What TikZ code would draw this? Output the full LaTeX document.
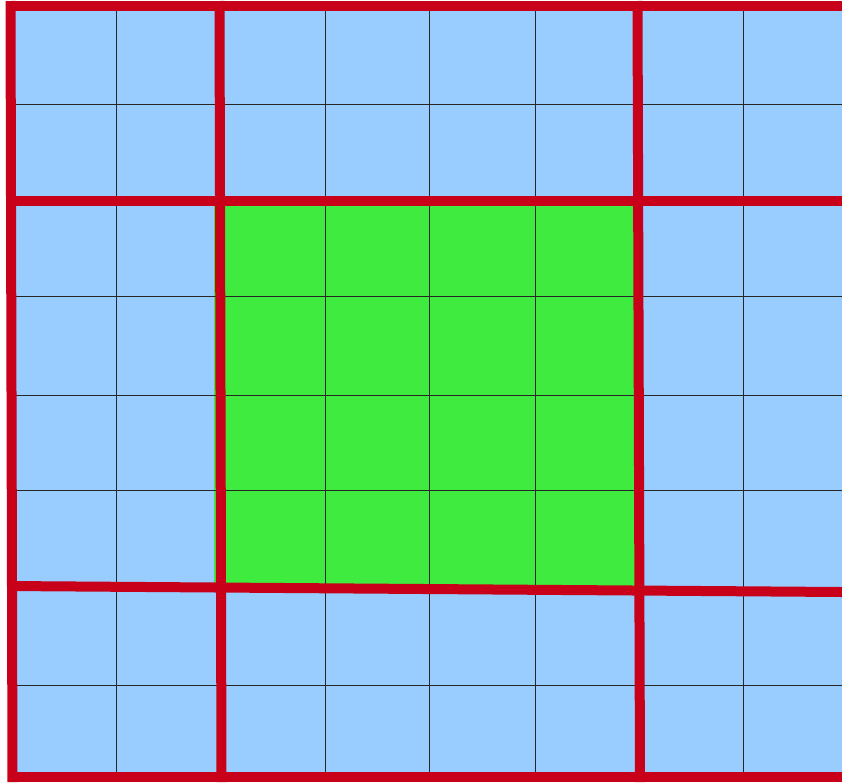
\documentclass[tikz,border=0pt]{standalone}
\definecolor{cellblue}{HTML}{99CCFF}
\definecolor{cellgreen}{HTML}{3EEB3E}
\definecolor{gridred}{HTML}{C8001A}
\tikzset{
  thin grid/.style={draw=black!85, line width=1pt},
  red grid/.style={draw=gridred, line width=10pt},
}
\begin{document}
\begin{tikzpicture}[x=1pt,y=-1pt]
\useasboundingbox (0,0) rectangle (842,782);
% backgrounds
\fill[cellblue] (10,4) rectangle (842,779);
\fill[cellgreen] (214,201) -- (638,201) -- (639,589) -- (214,586) -- cycle;
% thin lines
\foreach \x in {116,325,429,535,743} \draw[thin grid] (\x,6) -- (\x,777);
\foreach \y in {104,296,395,490,685} \draw[thin grid] (10,\y) -- (842,\y);
% red lines
\draw[red grid] (10.5,1) -- (12.5,782);
\draw[red grid] (219.5,1) -- (221.5,782);
\draw[red grid] (637.5,1) -- (640,782);
\draw[red grid] (8,6) -- (842,6);
\draw[red grid] (8,201) -- (842,201);
\draw[red grid] (8,586) -- (842,592);
\draw[red grid] (8,777) -- (842,777);
\end{tikzpicture}
\end{document}
